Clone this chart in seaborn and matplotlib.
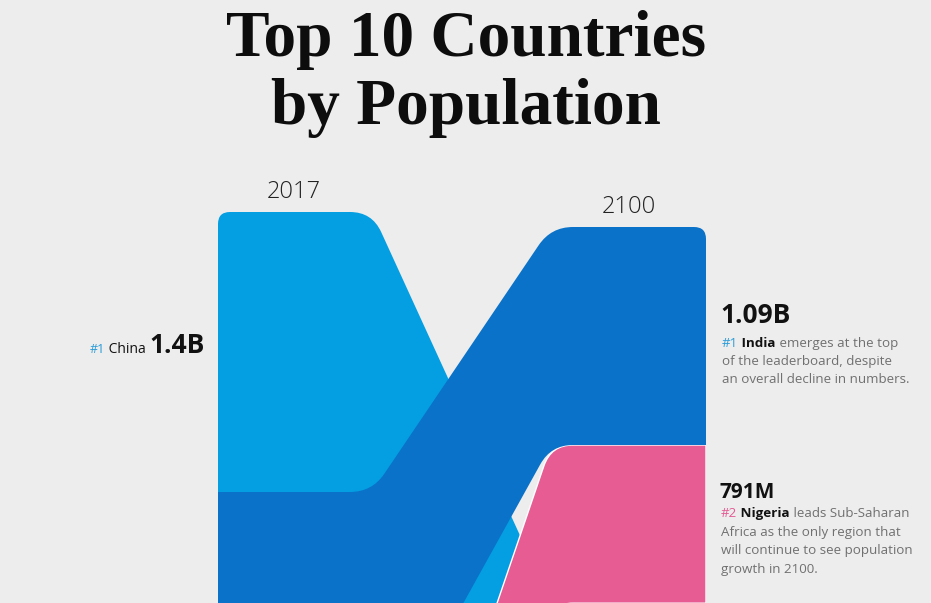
"""Top 10 countries by population: 2017 vs 2100 ribbon chart (cropped view)."""
import matplotlib
matplotlib.use("Agg")
import matplotlib.pyplot as plt
from matplotlib.path import Path
from matplotlib.patches import PathPatch
import numpy as np
import seaborn as sns

# data (billions)
countries_2017 = ["China", "India", "United States", "Indonesia", "Pakistan",
                  "Brazil", "Nigeria", "Bangladesh", "Russia", "Japan"]
pop_2017 = [1.40, 1.38, 0.325, 0.261, 0.214, 0.209, 0.206, 0.157, 0.146, 0.128]
countries_2100 = ["India", "Nigeria", "China", "United States", "Pakistan",
                  "DR Congo", "Indonesia", "Ethiopia", "Egypt", "Tanzania"]
pop_2100 = [1.09, 0.791, 0.732, 0.336, 0.248, 0.246, 0.229, 0.223, 0.199, 0.186]
years = ["2017", "2100"]

colors = {"China": "#049ee3", "India": "#0a72c8", "Nigeria": "#e65c93"}
edge_w = {"Nigeria": 1.0}

BG = "#ededed"
W_PX, H_PX = 931, 603
PX_PER_B = 200.0          # vertical scale of the ribbons
BAND_W = 488              # width of the ribbon area in px
XA, XB = 154, 333         # where the ribbons leave the 2017 / reach the 2100 column
RIGHT_OFFSET = 15 / PX_PER_B

sns.set_theme(style="white", rc={"figure.facecolor": BG, "axes.facecolor": BG})
SANS = ["Open Sans", "DejaVu Sans"]
plt.rcParams["font.family"] = SANS

fig = plt.figure(figsize=(W_PX / 100, H_PX / 100), dpi=100)
ax = fig.add_axes([218 / W_PX, 0, BAND_W / W_PX, (H_PX - 212) / H_PX])
ax.set_xlim(0, BAND_W)
ax.set_ylim((H_PX - 212) / PX_PER_B, 0)
ax.axis("off")


def stack(names, vals, offset=0.0):
    out, y = {}, offset
    for n, v in zip(names, vals):
        out[n] = (y, y + v)
        y += v
    return out


left = stack(countries_2017, pop_2017)
right = stack(countries_2100, pop_2100, RIGHT_OFFSET)


def rounded_path(pts, radii):
    # pts in data coords (x px, y billions); rounding done in pixel space
    P = np.array([(x, y * PX_PER_B) for x, y in pts], float)
    n = len(P)
    verts, codes = [], []
    for i in range(n):
        p, prev, nxt = P[i], P[i - 1], P[(i + 1) % n]
        d1, d2 = prev - p, nxt - p
        l1, l2 = np.hypot(*d1), np.hypot(*d2)
        r = min(radii[i], 0.5 * l1, 0.5 * l2)
        a = p + d1 / l1 * r if l1 else p
        b = p + d2 / l2 * r if l2 else p
        verts.append(a)
        codes.append(Path.MOVETO if i == 0 else Path.LINETO)
        verts += [p, b]
        codes += [Path.CURVE3, Path.CURVE3]
    verts.append(verts[0])
    codes.append(Path.CLOSEPOLY)
    verts = [(x, y / PX_PER_B) for x, y in verts]
    return Path(verts, codes)


for name in countries_2017:
    if name not in right:
        continue
    lt, lb = left[name]
    rt, rb = right[name]
    top_l = 12 if countries_2017.index(name) == 0 else 0
    top_r = 12 if countries_2100.index(name) == 0 else 0
    pts = [(0, lt), (XA, lt), (XB, rt), (BAND_W, rt),
           (BAND_W, rb), (XB, rb), (XA, lb), (0, lb)]
    radii = [top_l, 22, 22, top_r, 0, 22, 22, 0]
    lw = edge_w.get(name, 0)
    patch = PathPatch(rounded_path(pts, radii),
                      facecolor=colors.get(name, "#9aa5b1"),
                      edgecolor="white", linewidth=lw,
                      zorder=10 - countries_2100.index(name))
    ax.add_patch(patch)

# ---- text ----
renderer = fig.canvas.get_renderer()


def ftext(x, y, s, **kw):
    return fig.text(x / W_PX, 1 - y / H_PX, s, **kw)


def runs(x, y, parts, ha="left"):
    seq = parts if ha == "left" else parts[::-1]
    for s, color, weight, size in seq:
        t = ftext(x, y, s, color=color, fontweight=weight, fontsize=size,
                  ha=ha, va="baseline")
        w = t.get_window_extent(renderer).width
        x = x + w if ha == "left" else x - w


ftext(466, 56, "Top 10 Countries", family="Liberation Serif", fontweight="bold",
      fontsize=47, ha="center", va="baseline", color="#0d0d0d")
ftext(466, 124, "by Population", family="Liberation Serif", fontweight="bold",
      fontsize=47, ha="center", va="baseline", color="#0d0d0d")

ftext(294, 198, years[0], fontsize=17, fontweight="light", ha="center",
      va="baseline", color="#222222")
ftext(629, 213, years[1], fontsize=17, fontweight="light", ha="center",
      va="baseline", color="#222222")

GRAY = "#707070"
DARK = "#111111"
BLUE = "#2a9bd8"
PINK = "#e35a93"
BODY = 9.6

china_val = pop_2017[countries_2017.index("China")]
runs(205, 353, [("#1", BLUE, "normal", 9), (" China ", DARK, "normal", 10),
                (f"{china_val:.1f}B", DARK, "bold", 19)], ha="right")

india_val = pop_2100[countries_2100.index("India")]
ftext(720, 323, f"{india_val:.2f}B", fontsize=19, fontweight="bold",
      ha="left", va="baseline", color=DARK)
runs(722, 347, [("#1", BLUE, "normal", BODY), (" India", DARK, "bold", BODY),
                (" emerges at the top", GRAY, "normal", BODY)])
ftext(722, 365, "of the leaderboard, despite", fontsize=BODY, color=GRAY, va="baseline")
ftext(722, 383, "an overall decline in numbers.", fontsize=BODY, color=GRAY, va="baseline")

nigeria_val = pop_2100[countries_2100.index("Nigeria")]
ftext(720, 498, f"{nigeria_val * 1000:.0f}M", fontsize=15, fontweight="bold",
      ha="left", va="baseline", color=DARK)
runs(721, 517, [("#2", PINK, "normal", BODY), (" Nigeria", DARK, "bold", BODY),
                (" leads Sub-Saharan", GRAY, "normal", BODY)])
ftext(721, 536, "Africa as the only region that", fontsize=BODY, color=GRAY, va="baseline")
ftext(721, 554, "will continue to see population", fontsize=BODY, color=GRAY, va="baseline")
ftext(721, 573, "growth in 2100.", fontsize=BODY, color=GRAY, va="baseline")

fig.savefig("out.png", dpi=100, facecolor=BG)
